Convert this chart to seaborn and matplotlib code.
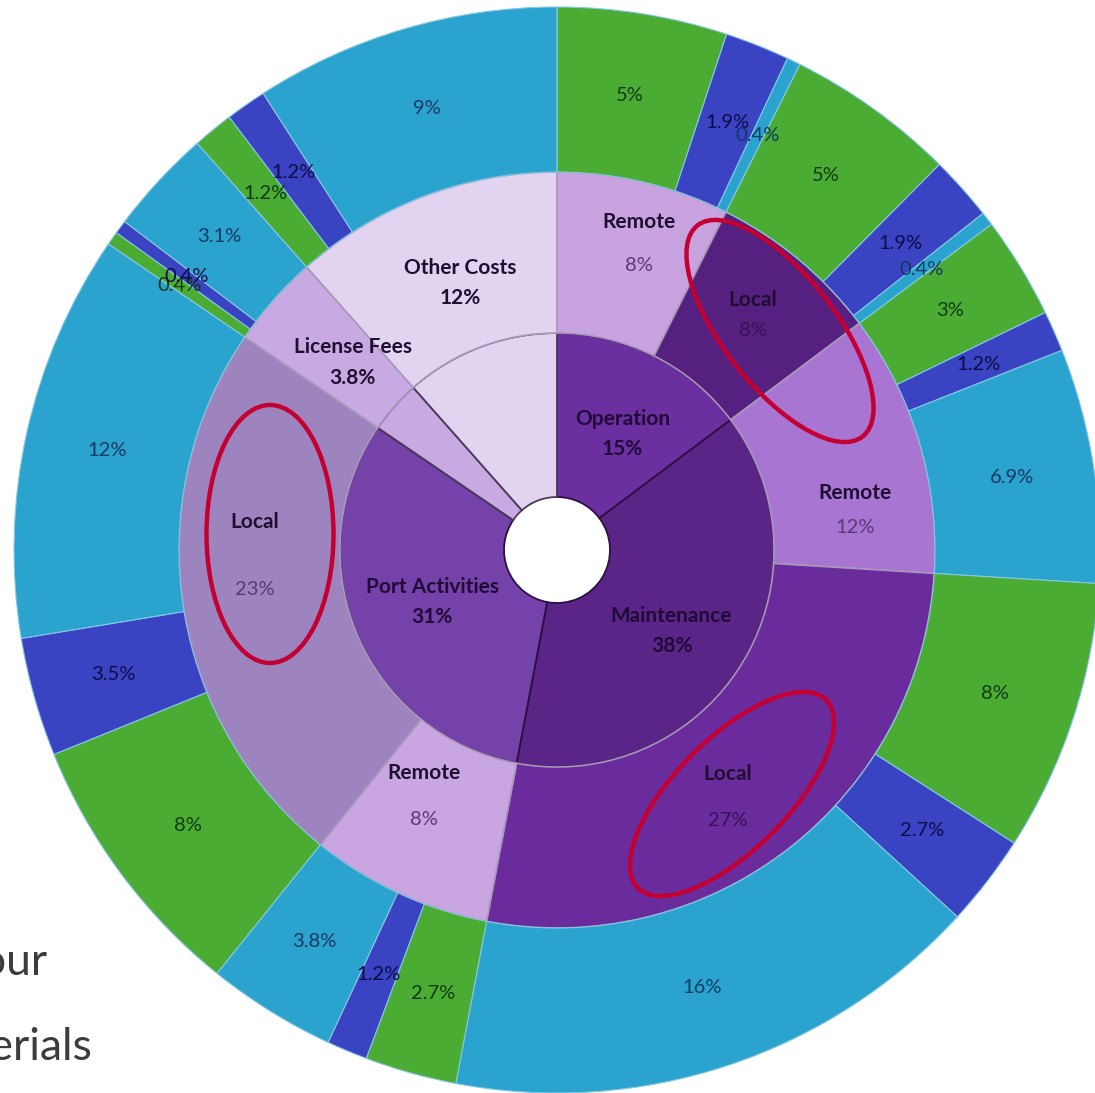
import numpy as np
import seaborn as sns
import matplotlib
matplotlib.use('Agg')
import matplotlib.pyplot as plt
from matplotlib.patches import Ellipse

sns.set_theme(style='white')
plt.rcParams['font.family'] = ['Lato', 'DejaVu Sans']

# --- данные ---
categories = ['Operation', 'Maintenance', 'Port Activities', 'License Fees', 'Other Costs']
category_labels = ['15%', '38%', '31%', '3.8%', '12%']

sub_names = ['Remote', 'Local', 'Remote', 'Local', 'Remote', 'Local', 'License Fees', 'Other Costs']
sub_parent = [0, 0, 1, 1, 2, 2, 3, 4]
sub_labels = ['8%', '8%', '12%', '27%', '8%', '23%', '3.8%', '12%']

# внешнее кольцо, по часовой внутри каждой подгруппы: зелёный, синий, голубой
leaf_green = [5, 5, 3, 8, 2.7, 8, 0.4, 1.2]
leaf_dark = [1.9, 1.9, 1.2, 2.7, 1.2, 3.5, 0.4, 1.2]
leaf_light = [0.4, 0.4, 6.9, 16, 3.8, 12, 3.1, 9]

# --- цвета ---
green, dark_blue, light_blue = '#4bac33', '#3a43c2', '#2aa3cf'
text_on = {green: '#0e3a0e', dark_blue: '#0c0c4a', light_blue: '#0b3a63'}
cat_colors = ['#6b2fa0', '#5b2587', '#7442a8', '#c9a9e2', '#e2d3f1']
sub_colors = ['#c8a3e0', '#55207f', '#a975d3', '#6a2c9c', '#c9a5e1', '#9e84bf', '#c9a9e2', '#e2d3f1']

# сдвиги подписей (в пикселях, вниз = +)
inner_shift = [(5, 5), (0, 10), (0, 0)]
mid_shift = [(12, -9), (0, 0), (5, 48), (-17, 6), (-5, -31), (0, -39), (25, 15), (11, 19)]
mid_gap = [44, 30, 34, 46, 46, 68, 31, 30]

# --- сборка значений колец ---
leaf_vals, leaf_cols, leaf_txt = [], [], []
for g, d, l in zip(leaf_green, leaf_dark, leaf_light):
    for v, c in [(g, green), (d, dark_blue), (l, light_blue)]:
        leaf_vals.append(v)
        leaf_cols.append(c)
        leaf_txt.append('{:g}%'.format(v))

sub_vals = [g + d + l for g, d, l in zip(leaf_green, leaf_dark, leaf_light)]
cat_vals = [sum(v for v, p in zip(sub_vals, sub_parent) if p == i) for i in range(len(categories))]

R_OUT, R_MID, R_IN, R_HOLE = 543, 378, 217, 53

fig = plt.figure(figsize=(10.95, 10.93), dpi=100)
ax = fig.add_axes([0, 0, 1, 1])

inner, _ = ax.pie(cat_vals, radius=R_IN, colors=cat_colors, startangle=90, counterclock=False,
                  wedgeprops=dict(width=R_IN - R_HOLE, edgecolor='#2b0f45', linewidth=1.3))
middle, _ = ax.pie(sub_vals, radius=R_MID, colors=sub_colors, startangle=90, counterclock=False,
                   wedgeprops=dict(width=R_MID - R_IN, edgecolor='#a898b8', linewidth=1.2))
outer, _ = ax.pie(leaf_vals, radius=R_OUT, colors=leaf_cols, startangle=90, counterclock=False,
                  wedgeprops=dict(width=R_OUT - R_MID, edgecolor='#86c6e4', linewidth=0.8))

for w in inner[3:]:
    w.set_edgecolor('#4a3a5a')


def mid_point(w, r):
    a = np.deg2rad((w.theta1 + w.theta2) / 2)
    return r * np.cos(a), r * np.sin(a)


# подписи внешнего кольца
for w, t, c in zip(outer, leaf_txt, leaf_cols):
    x, y = mid_point(w, (R_OUT + R_MID) / 2)
    ax.text(x, y, t, ha='center', va='center', fontsize=14.5, color=text_on[c])

# подписи внутреннего кольца
for i, w in enumerate(inner[:3]):
    x, y = mid_point(w, (R_IN + R_HOLE) / 2)
    x, y = x + inner_shift[i][0], y - inner_shift[i][1]
    ax.text(x, y + 15, categories[i], ha='center', va='center', fontsize=15,
            fontweight='bold', color='#1f0a38')
    ax.text(x, y - 15, category_labels[i], ha='center', va='center', fontsize=15,
            fontweight='bold', color='#1f0a38')

# подписи среднего кольца
for i, w in enumerate(middle):
    x, y = mid_point(w, (R_MID + R_IN) / 2 + 8)
    x, y = x + mid_shift[i][0], y - mid_shift[i][1]
    ax.text(x, y + mid_gap[i] / 2, sub_names[i], ha='center', va='center', fontsize=15,
            fontweight='bold', color='#1e0f30')
    if i >= 6:
        ax.text(x, y - mid_gap[i] / 2, category_labels[sub_parent[i]], ha='center', va='center',
                fontsize=15, fontweight='bold', color='#1e0f30')
    else:
        dark = sub_colors[i] in ('#55207f', '#6a2c9c')
        ax.text(x, y - mid_gap[i] / 2, sub_labels[i], ha='center', va='center', fontsize=14.5,
                color='#3a1258' if dark else '#5a3a78')

# красные эллипсы-выделения
for (cx, cy), wd, ht, ang in [((223, 219), 268, 112, -52),
                              ((-287, 16), 127, 258, 0),
                              ((175, -244), 266, 112, 45)]:
    ax.add_patch(Ellipse((cx, cy), wd, ht, angle=ang, fill=False,
                         edgecolor='#c40032', linewidth=3.2, zorder=5))

ax.set_xlim(-557, 538)
ax.set_ylim(-543, 550)
ax.set_aspect('equal')
ax.axis('off')

# обрезанный текст слайда слева
fig.text(48 / 1095, 1 - 975 / 1093, 'Labour', ha='right', va='baseline',
         fontsize=32, color='#3c3c3c')
fig.text(93 / 1095, 1 - 1060 / 1093, 'Materials', ha='right', va='baseline',
         fontsize=32, color='#3c3c3c')

fig.savefig('out.png', dpi=100, facecolor='white')
